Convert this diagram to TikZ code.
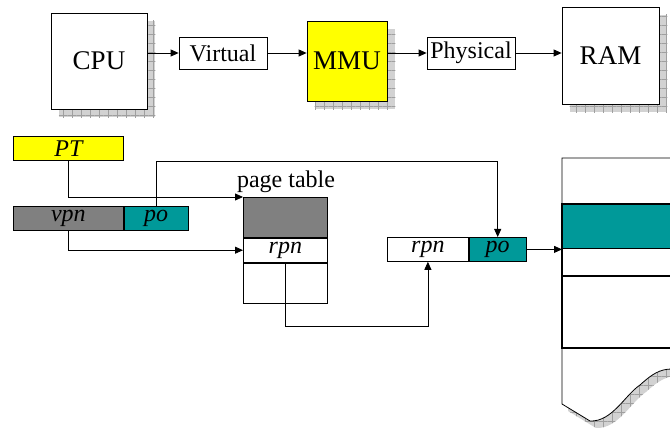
\documentclass[tikz,border=0pt]{standalone}
\usepackage{fontspec}
\setmainfont{Liberation Serif}
\usetikzlibrary{arrows.meta}
\usetikzlibrary{patterns.meta}
\usetikzlibrary{backgrounds}
\definecolor{mmuyellow}{RGB}{255,255,0}
\definecolor{vpngray}{RGB}{128,128,128}
\definecolor{poteal}{RGB}{0,153,153}
\tikzstyle{arrow}=[-{Triangle[length=8pt,width=7pt]}]
\tikzstyle{unit}=[draw, rectangle, fill=white, inner sep=0pt, font=\fontsize{27}{31}\selectfont]
\tikzstyle{tag}=[draw, rectangle, fill=white, inner sep=0pt, minimum width=88, minimum height=32, font=\fontsize{24}{28}\selectfont]
\tikzstyle{field}=[draw, rectangle, inner sep=0pt, minimum height=24, font=\fontsize{24}{28}\selectfont\itshape]
\tikzstyle{hatch}=[fill=gray!35, postaction={pattern={Hatch[angle=0,distance=9pt,line width=0.4pt]}, pattern color=gray!75}]
\tikzset{every picture/.style={
    line width=0.8
  }
}

\begin{document}
\begin{tikzpicture}[x=1pt, y=-1pt]
      \useasboundingbox (0,0) rectangle (670,430);
      % translation path
      \node[unit, minimum width=96, minimum height=96] at (99,61) (cpu) {CPU};
      \node[tag] at (223,53) (virt) {Virtual};
      \node[unit, fill=mmuyellow, minimum width=80, minimum height=80] at (347,61) (mmu) {MMU};
      \node[tag] at (471,53) (phys) {Physical};
      \node[unit, minimum width=97, minimum height=97] at (610.5,55.5) (ram) {RAM};
      \draw[arrow] (virt.west -| cpu.east) -- (virt.west);
      \draw[arrow] (virt.east) -- (virt.east -| mmu.west);
      \draw[arrow] (phys.west -| mmu.east) -- (phys.west);
      \draw[arrow] (phys.east) -- (phys.east -| ram.west);

      % address fields
      \node[field, fill=mmuyellow, minimum width=110, anchor=north west] at (13,136) (pt) {PT};
      \node[field, fill=vpngray, minimum width=110, anchor=north west] at (13,206) (vpn) {vpn};
      \node[field, fill=poteal, minimum width=64, anchor=west] at (vpn.east) (po) {po};

      % page table
      \node[font=\fontsize{24}{28}\selectfont, anchor=base] at (286,188) (ptlabel) {page table};
      \node[field, fill=vpngray, minimum width=84, minimum height=40, anchor=north west] at (243,197) (ptop) {};
      \node[field, fill=white, minimum width=84, anchor=north] at (ptop.south) (rpn) {rpn};
      \node[field, minimum width=84, minimum height=40, anchor=north] at (rpn.south) (pte) {};

      \node[field, fill=white, minimum width=81, anchor=north west] at (387,237) (rpn2) {rpn};
      \node[field, fill=poteal, minimum width=57, anchor=west] at (rpn2.east) (po2) {po};

      % memory
      \node[draw, rectangle, fill=poteal, inner sep=0pt, minimum width=112, minimum height=44, anchor=north west] at (562,204) (frame) {};
      \begin{scope}[on background layer]
        \foreach \n in {cpu,mmu,ram}
          \fill[hatch] ([shift={(8,8)}]\n.south west) rectangle ([shift={(8,8)}]\n.north east);
        \fill[hatch, shift={(6,7)}] (562,340) -- (562,404) -- (590,421)
          .. controls (612,422) and (625,395) .. (640,385)
          .. controls (652,374) and (660,369) .. (672,369) -- (672,340) -- cycle;
        \fill[white] (562,340) -- (562,404) -- (590,421)
          .. controls (612,422) and (625,395) .. (640,385)
          .. controls (652,374) and (660,369) .. (672,369) -- (672,340) -- cycle;
      \end{scope}
      \draw (672,158) -- (562,158) -- (562,404) -- (590,421)
          .. controls (612,422) and (625,395) .. (640,385)
          .. controls (652,374) and (660,369) .. (672,369);
      \draw[line width=2.2] (frame.north west) rectangle (674,276);
      \draw[line width=2.2] (562,276) rectangle (674,348);

      \draw[arrow] (pt.south) |- (ptop.north west);
      \draw[arrow] (vpn.south) |- (rpn.west);
      \draw[arrow] (po.north) -- (po.north |- 0,161) -| (po2.north);
      \draw[arrow] (rpn.south) -- (rpn.south |- 0,326) -| (rpn2.south);
      \draw[arrow] (po2.east) -- (po2.east -| frame.west);
\end{tikzpicture}
\end{document}
